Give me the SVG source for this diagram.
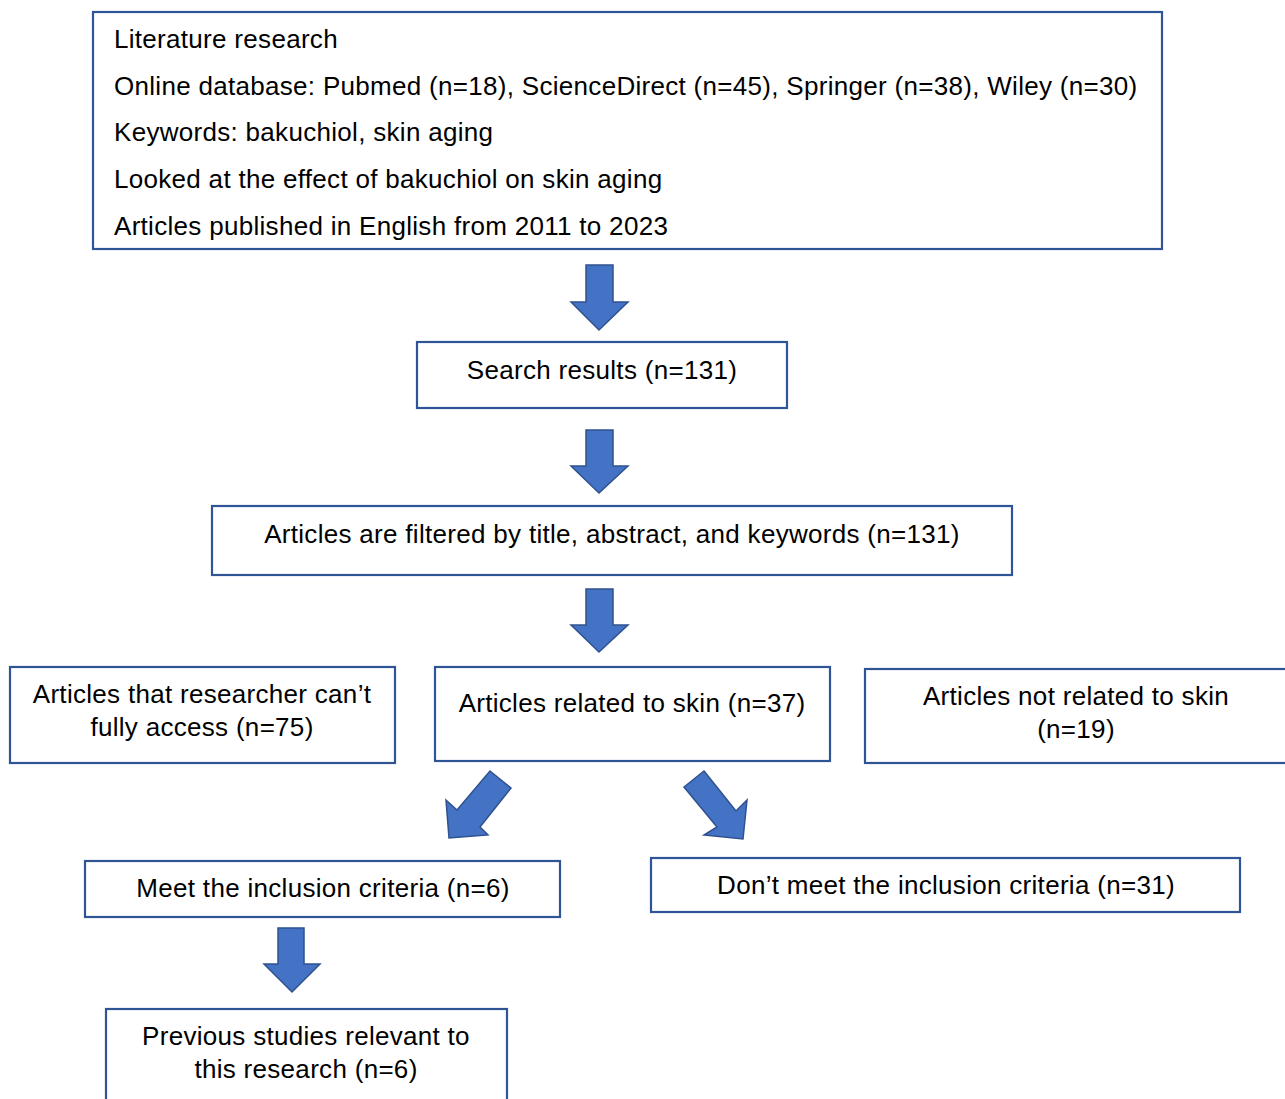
<svg xmlns="http://www.w3.org/2000/svg" width="1285" height="1099" viewBox="0 0 1285 1099">
<style>
.box{fill:#ffffff;stroke:#2f5597;stroke-width:2.2}
.t{font-family:"Liberation Sans",Arial,sans-serif;font-size:26px;letter-spacing:0.3px;fill:#000000}
.c{text-anchor:middle}
.arr{fill:#4472c4;stroke:#2f528f;stroke-width:1.5;stroke-linejoin:miter}
</style>
<rect width="1285" height="1099" fill="#ffffff"/>
<g id="connectors">
<polygon class="arr" points="586,265 613,265 613,302 628,302 599,330 571,302 586,302"/>
<polygon class="arr" points="586,430 613,430 613,466 628,466 599,493 571,466 586,466"/>
<polygon class="arr" points="586,589 613,589 613,625 628,625 599,652 571,625 586,625"/>
<polygon class="arr" points="490,771 511,788 480,827 488,835 449,838 446,800 457,810"/>
<polygon class="arr" points="704,771 736,811 747,800 743,839 704,835 717,827 684,787"/>
<polygon class="arr" points="278,928 304,928 304,964 320,964 292,992 264,964 278,964"/>
</g>
<g id="n1">
<rect class="box" x="93" y="12" width="1069" height="237"/>
<text class="t" x="114" y="47.5">Literature research</text>
<text class="t" x="114" y="94.5">Online database: Pubmed (n=18), ScienceDirect (n=45), Springer (n=38), Wiley (n=30)</text>
<text class="t" x="114" y="140.5">Keywords: bakuchiol, skin aging</text>
<text class="t" x="114" y="187.5">Looked at the effect of bakuchiol on skin aging</text>
<text class="t" x="114" y="234.5">Articles published in English from 2011 to 2023</text>
</g>
<g id="n2">
<rect class="box" x="417" y="342" width="370" height="66"/>
<text class="t c" x="602" y="379">Search results (n=131)</text>
</g>
<g id="n3">
<rect class="box" x="212" y="506" width="800" height="69"/>
<text class="t c" x="612" y="543">Articles are filtered by title, abstract, and keywords (n=131)</text>
</g>
<g id="n4">
<rect class="box" x="10" y="667" width="385" height="96"/>
<text class="t c" x="202" y="703">Articles that researcher can’t</text>
<text class="t c" x="202" y="736">fully access (n=75)</text>
</g>
<g id="n5">
<rect class="box" x="435" y="667" width="395" height="94"/>
<text class="t c" x="632" y="712">Articles related to skin (n=37)</text>
</g>
<g id="n6">
<rect class="box" x="865" y="669" width="425" height="94"/>
<text class="t c" x="1076" y="705">Articles not related to skin</text>
<text class="t c" x="1076" y="738">(n=19)</text>
</g>
<g id="n7">
<rect class="box" x="85" y="861" width="475" height="56"/>
<text class="t c" x="323" y="897">Meet the inclusion criteria (n=6)</text>
</g>
<g id="n8">
<rect class="box" x="651" y="858" width="589" height="54"/>
<text class="t c" x="946" y="894">Don’t meet the inclusion criteria (n=31)</text>
</g>
<g id="n9">
<rect class="box" x="106" y="1009" width="401" height="100"/>
<text class="t c" x="306" y="1045">Previous studies relevant to</text>
<text class="t c" x="306" y="1078">this research (n=6)</text>
</g>
</svg>
